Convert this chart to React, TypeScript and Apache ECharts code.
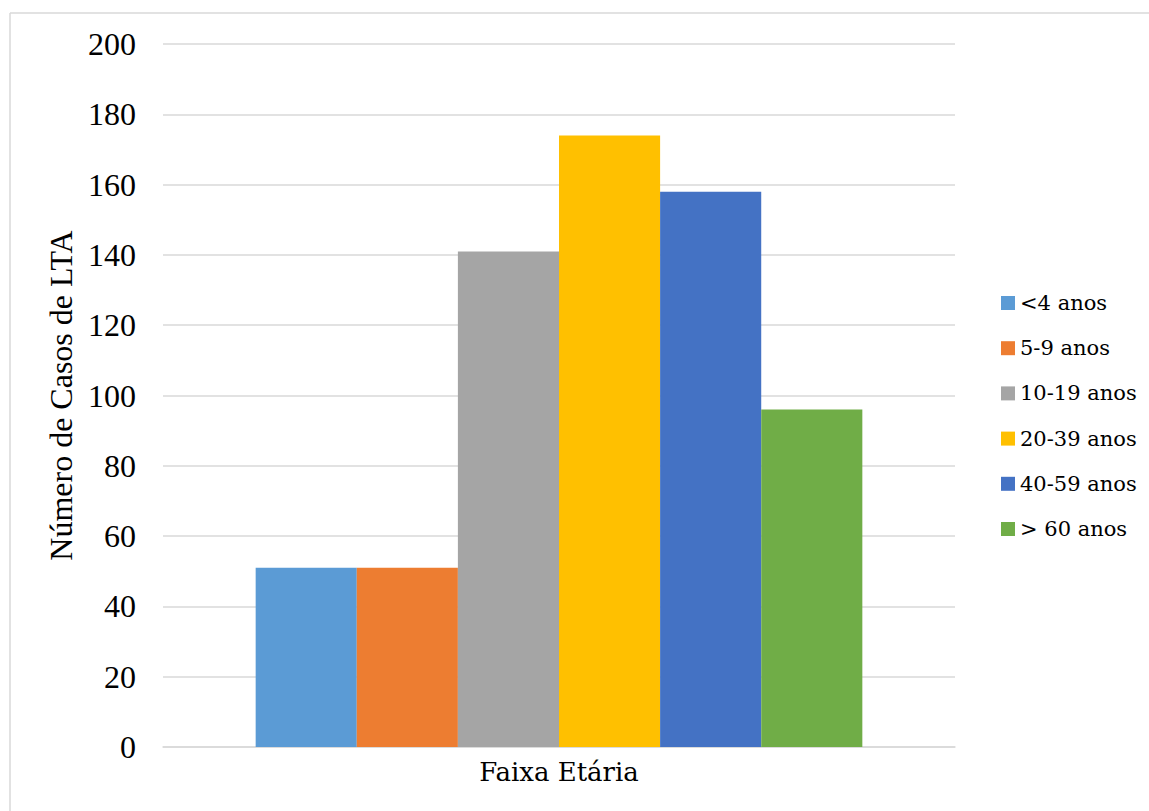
import React, { useEffect, useRef } from "react";
import * as echarts from "echarts";

const categories = ["Faixa Etária"];
const seriesNames = ["<4 anos", "5-9 anos", "10-19 anos", "20-39 anos", "40-59 anos", "> 60 anos"];
const seriesValues = [51, 51, 141, 174, 158, 96];
const seriesColors = ["#5B9BD5", "#ED7D31", "#A5A5A5", "#FFC000", "#4472C4", "#70AD47"];

const FONT = "Liberation Serif, Times New Roman, serif";
const LABEL_FONT = "DejaVu Serif";

export default function App() {
  const ref = useRef<HTMLDivElement>(null);

  useEffect(() => {
    if (!ref.current) return;
    const chart = echarts.init(ref.current, null, { renderer: "svg" });
    chart.setOption({
      animation: false,
      backgroundColor: "#ffffff",
      textStyle: { fontFamily: FONT },
      grid: { left: 163, right: 194, top: 44, bottom: 64, containLabel: false },
      legend: {
        orient: "vertical",
        left: 996,
        top: 285,
        itemWidth: 14,
        itemHeight: 14,
        itemGap: 19.2,
        icon: "rect",
        textStyle: { fontFamily: LABEL_FONT, fontSize: 21, color: "#000", lineHeight: 26 },
        data: seriesNames,
      },
      xAxis: {
        type: "category",
        data: categories,
        axisLine: { show: true, lineStyle: { color: "#d9d9d9", width: 1.5 } },
        axisTick: { show: false },
        axisLabel: { fontFamily: LABEL_FONT, fontSize: 26, color: "#000", margin: 12 },
      },
      yAxis: {
        type: "value",
        min: 0,
        max: 200,
        interval: 20,
        name: "Número de Casos de LTA",
        nameLocation: "middle",
        nameGap: 84,
        nameTextStyle: { fontFamily: FONT, fontSize: 32, color: "#000" },
        axisLine: { show: false },
        axisTick: { show: false },
        axisLabel: { fontFamily: FONT, fontSize: 32, color: "#000", margin: 27 },
        splitLine: { lineStyle: { color: "#d9d9d9", width: 1.5 } },
      },
      graphic: [
        { type: "line", shape: { x1: 10, y1: 13, x2: 1149, y2: 13 }, style: { stroke: "#d9d9d9", lineWidth: 1.5 } },
        { type: "line", shape: { x1: 10, y1: 13, x2: 10, y2: 811 }, style: { stroke: "#d9d9d9", lineWidth: 1.5 } },
      ],
      series: seriesNames.map((name, i) => ({
        name,
        type: "bar",
        data: [seriesValues[i]],
        itemStyle: { color: seriesColors[i] },
        barGap: "0%",
        barCategoryGap: "23.4%",
      })),
    });
    return () => chart.dispose();
  }, []);

  return (
    <div
      ref={ref}
      style={{ position: "fixed", left: 0, top: 0, width: 1149, height: 811 }}
    />
  );
}
